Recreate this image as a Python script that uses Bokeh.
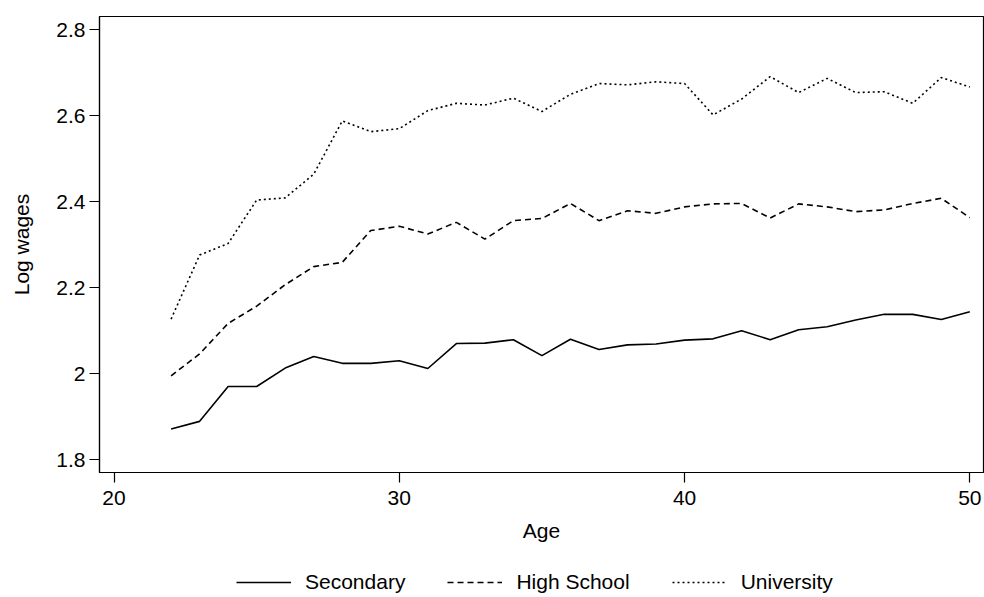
from bokeh.plotting import figure
from bokeh.layouts import column
from bokeh.models import Range1d, FixedTicker, CustomJSTickFormatter, Legend, LegendItem
from bokeh.embed import file_html
from bokeh.resources import INLINE

ages = list(range(22, 51))
secondary = [1.871, 1.889, 1.970, 1.970, 2.013, 2.040, 2.024, 2.024, 2.030, 2.012,
             2.070, 2.071, 2.079, 2.042, 2.080, 2.056, 2.067, 2.069, 2.078, 2.081,
             2.100, 2.079, 2.102, 2.109, 2.125, 2.138, 2.138, 2.126, 2.144]
high_school = [1.995, 2.046, 2.117, 2.157, 2.207, 2.249, 2.259, 2.333, 2.343, 2.325,
               2.352, 2.313, 2.356, 2.361, 2.396, 2.356, 2.379, 2.373, 2.388, 2.395,
               2.396, 2.362, 2.395, 2.388, 2.377, 2.381, 2.396, 2.408, 2.363]
university = [2.127, 2.276, 2.303, 2.404, 2.409, 2.464, 2.588, 2.563, 2.570, 2.612,
              2.629, 2.625, 2.641, 2.610, 2.650, 2.675, 2.672, 2.679, 2.675, 2.602,
              2.639, 2.691, 2.654, 2.687, 2.654, 2.656, 2.629, 2.689, 2.667]
series_names = ["Secondary", "High School", "University"]
x_ticks = [20, 30, 40, 50]
y_ticks = [1.8, 2.0, 2.2, 2.4, 2.6, 2.8]

FONT = "Liberation Sans"
STYLES = [dict(line_color="black", line_width=1.6),
          dict(line_color="black", line_width=1.6, line_dash="6 4"),
          dict(line_color="black", line_width=1.6, line_dash="2 3")]

p = figure(width=984, height=560, output_backend="svg", toolbar_location=None,
           x_range=Range1d(19.49, 50.48), y_range=Range1d(1.770, 2.831),
           min_border_left=99, min_border_right=1, min_border_top=16, min_border_bottom=88,
           x_axis_label="Age", y_axis_label="Log wages")

p.xgrid.visible = False
p.ygrid.visible = False
p.outline_line_color = "black"
p.outline_line_width = 1.2
p.outline_line_alpha = 1
p.background_fill_color = "white"
p.border_fill_color = "white"

for ax in (p.xaxis[0], p.yaxis[0]):
    ax.axis_line_color = "black"
    ax.axis_line_width = 1.2
    ax.major_tick_line_color = "black"
    ax.major_tick_line_width = 1.2
    ax.major_tick_in = 0
    ax.major_tick_out = 10
    ax.minor_tick_line_color = None
    ax.major_label_text_font = FONT
    ax.major_label_text_font_size = "21px"
    ax.major_label_text_color = "black"
    ax.axis_label_text_font = FONT
    ax.axis_label_text_font_size = "21px"
    ax.axis_label_text_font_style = "normal"
    ax.axis_label_text_color = "black"

p.xaxis[0].ticker = FixedTicker(ticks=x_ticks)
p.yaxis[0].ticker = FixedTicker(ticks=y_ticks)
p.yaxis[0].formatter = CustomJSTickFormatter(code="return String(Math.round(tick*10)/10);")
p.xaxis[0].major_label_standoff = 8
p.xaxis[0].axis_label_standoff = 11
p.yaxis[0].major_label_standoff = 4
p.yaxis[0].axis_label_standoff = 20

series = [secondary, high_school, university]
for vals, st in zip(series, STYLES):
    p.line(ages, vals, **st)

# legend strip below the plot (its lines lie outside its visible range)
lg = figure(width=984, height=37, output_backend="svg", toolbar_location=None,
            x_axis_type=None, y_axis_type=None,
            x_range=Range1d(0, 1), y_range=Range1d(100, 101),
            min_border_left=0, min_border_right=0, min_border_top=0, min_border_bottom=0)
lg.xgrid.visible = False
lg.ygrid.visible = False
lg.outline_line_color = None
lg.background_fill_color = "white"
lg.border_fill_color = "white"

items = []
for name, vals, st in zip(series_names, series, STYLES):
    r = lg.line(ages, vals, **st)
    items.append(LegendItem(label=name, renderers=[r]))

legend = Legend(items=items, orientation="horizontal", location=(137, 3),
                border_line_color=None, background_fill_alpha=0,
                glyph_width=55, glyph_height=20, label_standoff=14, spacing=42,
                label_text_font=FONT, label_text_font_size="21px",
                label_text_color="black", padding=0, margin=0)
lg.add_layout(legend, "center")

layout = column(p, lg, spacing=0)
open("out.html", "w").write(file_html(layout, INLINE))
